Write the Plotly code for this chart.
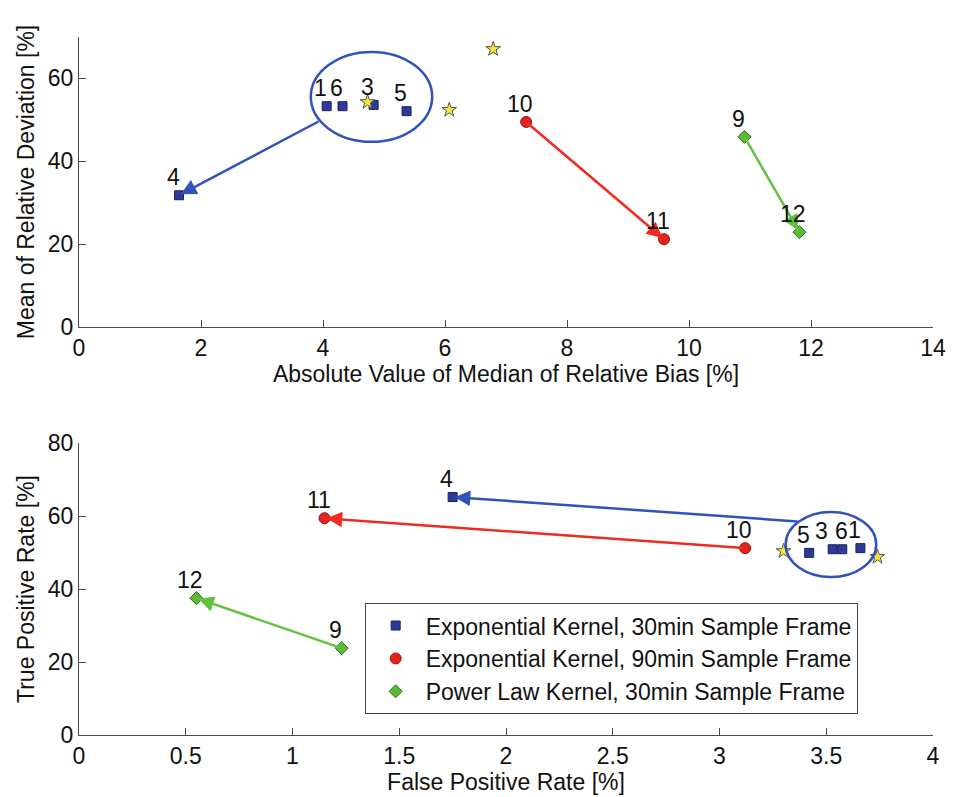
import math
import plotly.graph_objects as go

# ---------------- data: upper panel (bias vs. deviation) ----------------
top_exp30_labels = ["1", "6", "3", "5", "4"]
top_exp30_x = [4.06, 4.32, 4.83, 5.37, 1.64]
top_exp30_y = [53.3, 53.3, 53.6, 52.1, 31.8]

top_exp90_labels = ["10", "11"]
top_exp90_x = [7.33, 9.59]
top_exp90_y = [49.5, 21.2]

top_pow30_labels = ["9", "12"]
top_pow30_x = [10.91, 11.81]
top_pow30_y = [45.9, 22.9]

top_star_x = [4.73, 6.07, 6.79]
top_star_y = [54.3, 52.4, 67.1]

# group outline (x0, x1, y0, y1) and where its arrow leaves it (degrees)
top_group_box = [3.80, 5.79, 44.7, 66.4]
top_group_exit_deg = 212

# ---------------- data: lower panel (ROC-style) ----------------
bot_exp30_labels = ["5", "3", "6", "1", "4"]
bot_exp30_x = [3.42, 3.53, 3.575, 3.66, 1.75]
bot_exp30_y = [49.9, 50.9, 50.9, 51.2, 65.2]

bot_exp90_labels = ["10", "11"]
bot_exp90_x = [3.12, 1.15]
bot_exp90_y = [51.2, 59.4]

bot_pow30_labels = ["9", "12"]
bot_pow30_x = [1.23, 0.55]
bot_pow30_y = [23.8, 37.5]

bot_star_x = [3.30, 3.74]
bot_star_y = [50.4, 48.8]

bot_group_box = [3.31, 3.734, 43.3, 61.1]
bot_group_exit_deg = 135

legend_names = [
    "Exponential Kernel, 30min Sample Frame",
    "Exponential Kernel, 90min Sample Frame",
    "Power Law Kernel, 30min Sample Frame",
]

# ---------------- styles ----------------
FONT = "Liberation Sans, Arial, Helvetica, sans-serif"
BLUE_FILL, BLUE_EDGE, BLUE_LINE = "#2e3b96", "#1a2163", "#2f52bd"
RED_FILL, RED_EDGE, RED_LINE = "#e5221c", "#8f1410", "#f2291f"
GREEN_FILL, GREEN_EDGE, GREEN_LINE = "#5dba36", "#2d6b19", "#63c23d"
STAR_FILL, STAR_EDGE = "#f3e53c", "#555555"
AXIS_COLOR = "#4a4a4a"
TEXT_SIZE = 23

# extra horizontal nudges (px) for crowded point labels in the lower panel
bot_label_nudge = {"3": -5, "6": 5}

fig = go.Figure()


def add_points(xs, ys, xa, ya, name, symbol, fill, edge, size, show):
    fig.add_trace(go.Scatter(
        x=xs, y=ys, xaxis=xa, yaxis=ya, mode="markers", name=name,
        showlegend=show, legendgroup=name,
        marker=dict(symbol=symbol, size=size, color=fill,
                    line=dict(color=edge, width=1)),
        hoverinfo="x+y",
    ))


def add_labels(labels, xs, ys, xref, yref, nudge=None):
    nudge = nudge or {}
    for t, x, y in zip(labels, xs, ys):
        fig.add_annotation(
            x=x, y=y, xref=xref, yref=yref, text=t, showarrow=False,
            xshift=-6 + nudge.get(t, 0), yshift=18,
            font=dict(family=FONT, size=TEXT_SIZE, color="#111"),
        )


def add_arrow(x_from, y_from, x_to, y_to, xref, yref, color):
    fig.add_annotation(
        x=x_to, y=y_to, ax=x_from, ay=y_from,
        xref=xref, yref=yref, axref=xref, ayref=yref,
        text="", showarrow=True, arrowhead=2, arrowsize=1.25,
        arrowwidth=2.5, arrowcolor=color, standoff=2,
    )


def group_outline(box, xref, yref):
    x0, x1, y0, y1 = box
    fig.add_shape(type="circle", xref=xref, yref=yref,
                  x0=x0, x1=x1, y0=y0, y1=y1,
                  line=dict(color=BLUE_LINE, width=2.5), layer="above")


def point_on_outline(box, deg):
    x0, x1, y0, y1 = box
    cx, cy = (x0 + x1) / 2, (y0 + y1) / 2
    rx, ry = (x1 - x0) / 2, (y1 - y0) / 2
    a = math.radians(deg)
    return cx + rx * math.cos(a), cy + ry * math.sin(a)


# ---------- upper panel ----------
add_points(top_exp30_x, top_exp30_y, "x", "y", legend_names[0], "square",
           BLUE_FILL, BLUE_EDGE, 9, True)
add_points(top_exp90_x, top_exp90_y, "x", "y", legend_names[1], "circle",
           RED_FILL, RED_EDGE, 11, True)
add_points(top_pow30_x, top_pow30_y, "x", "y", legend_names[2], "diamond",
           GREEN_FILL, GREEN_EDGE, 10, True)
add_points(top_star_x, top_star_y, "x", "y", "stars", "star",
           STAR_FILL, STAR_EDGE, 11, False)

group_outline(top_group_box, "x", "y")
sx, sy = point_on_outline(top_group_box, top_group_exit_deg)
add_arrow(sx, sy, top_exp30_x[4], top_exp30_y[4], "x", "y", BLUE_LINE)
add_arrow(top_exp90_x[0], top_exp90_y[0], top_exp90_x[1], top_exp90_y[1], "x", "y", RED_LINE)
add_arrow(top_pow30_x[0], top_pow30_y[0], top_pow30_x[1], top_pow30_y[1], "x", "y", GREEN_LINE)

add_labels(top_exp30_labels, top_exp30_x, top_exp30_y, "x", "y")
add_labels(top_exp90_labels, top_exp90_x, top_exp90_y, "x", "y")
add_labels(top_pow30_labels, top_pow30_x, top_pow30_y, "x", "y")

# ---------- lower panel ----------
add_points(bot_exp30_x, bot_exp30_y, "x2", "y2", legend_names[0], "square",
           BLUE_FILL, BLUE_EDGE, 9, False)
add_points(bot_exp90_x, bot_exp90_y, "x2", "y2", legend_names[1], "circle",
           RED_FILL, RED_EDGE, 11, False)
add_points(bot_pow30_x, bot_pow30_y, "x2", "y2", legend_names[2], "diamond",
           GREEN_FILL, GREEN_EDGE, 10, False)
add_points(bot_star_x, bot_star_y, "x2", "y2", "stars", "star",
           STAR_FILL, STAR_EDGE, 11, False)

group_outline(bot_group_box, "x2", "y2")
sx, sy = point_on_outline(bot_group_box, bot_group_exit_deg)
add_arrow(sx, sy, bot_exp30_x[4], bot_exp30_y[4], "x2", "y2", BLUE_LINE)
add_arrow(bot_exp90_x[0], bot_exp90_y[0], bot_exp90_x[1], bot_exp90_y[1], "x2", "y2", RED_LINE)
add_arrow(bot_pow30_x[0], bot_pow30_y[0], bot_pow30_x[1], bot_pow30_y[1], "x2", "y2", GREEN_LINE)

add_labels(bot_exp30_labels, bot_exp30_x, bot_exp30_y, "x2", "y2", bot_label_nudge)
add_labels(bot_exp90_labels, bot_exp90_x, bot_exp90_y, "x2", "y2")
add_labels(bot_pow30_labels, bot_pow30_x, bot_pow30_y, "x2", "y2")

# ---------- axes ----------
axis_common = dict(
    showline=True, linecolor=AXIS_COLOR, linewidth=1, mirror=False,
    ticks="inside", ticklen=7, tickcolor=AXIS_COLOR, tickwidth=1,
    showgrid=False, zeroline=False,
    tickfont=dict(family=FONT, size=TEXT_SIZE, color="#111"),
)
title_font = dict(family=FONT, size=TEXT_SIZE, color="#111")

fig.update_layout(
    width=958, height=797,
    margin=dict(l=79, r=21, t=37, b=62),
    paper_bgcolor="white", plot_bgcolor="white",
    font=dict(family=FONT, color="#111"),
    xaxis=dict(axis_common, domain=[0, 1], anchor="y", range=[0, 14],
               tickmode="array", tickvals=list(range(0, 15, 2)),
               title=dict(text="Absolute Value of Median of Relative Bias [%]",
                          font=title_font, standoff=0)),
    yaxis=dict(axis_common, domain=[0.5845, 1.0], anchor="x", range=[0, 70],
               tickmode="array", tickvals=[0, 20, 40, 60],
               title=dict(text="Mean of Relative Deviation [%]",
                          font=title_font, standoff=6)),
    xaxis2=dict(axis_common, domain=[0, 1], anchor="y2", range=[0, 4],
                tickmode="array", tickvals=[0, 0.5, 1, 1.5, 2, 2.5, 3, 3.5, 4],
                ticktext=["0", "0.5", "1", "1.5", "2", "2.5", "3", "3.5", "4"],
                title=dict(text="False Positive Rate [%]", font=title_font, standoff=0)),
    yaxis2=dict(axis_common, domain=[0, 0.4183], anchor="x2", range=[0, 80],
                tickmode="array", tickvals=[0, 20, 40, 60, 80],
                title=dict(text="True Positive Rate [%]", font=title_font, standoff=6)),
    legend=dict(
        x=0.3345, y=0.189, xanchor="left", yanchor="top",
        bgcolor="white", bordercolor="#444", borderwidth=1,
        font=dict(family=FONT, size=23, color="#111"),
        itemsizing="trace", itemwidth=50, tracegroupgap=0,
    ),
    showlegend=True,
)

fig.write_html("out.html")
